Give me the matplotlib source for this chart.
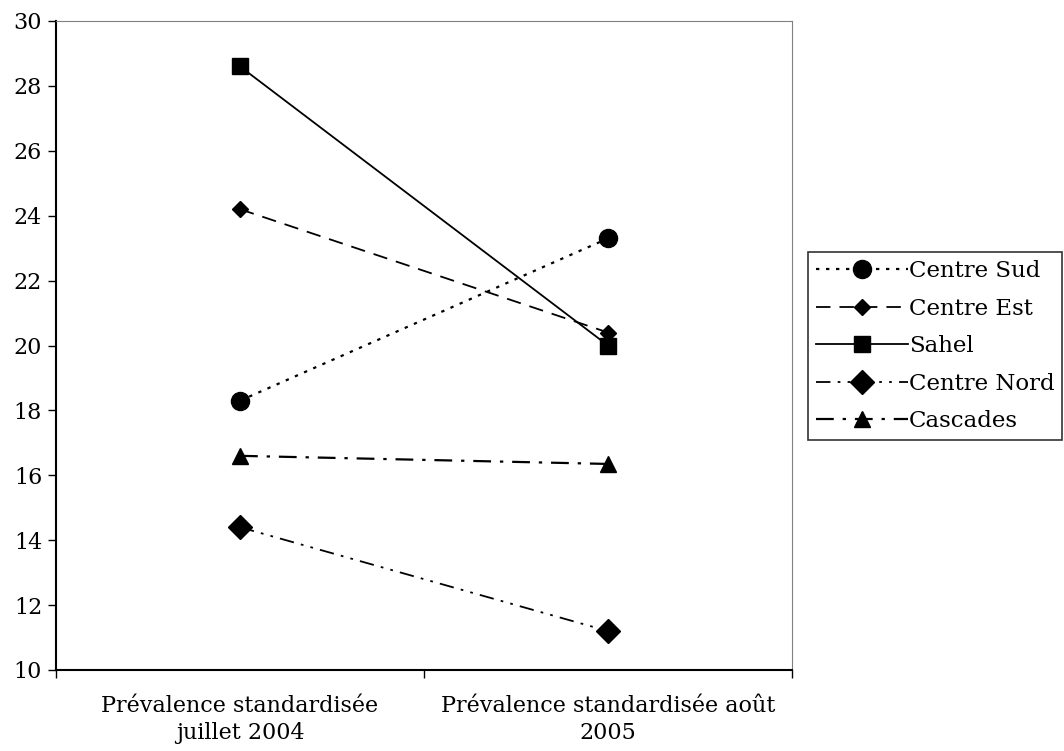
import matplotlib.pyplot as plt
from matplotlib.ticker import FixedLocator, NullFormatter

# data
categories = ['Prévalence standardisée\njuillet 2004', 'Prévalence standardisée août\n2005']
centre_sud = [18.3, 23.3]
centre_est = [24.2, 20.4]
sahel = [28.6, 20.0]
centre_nord = [14.4, 11.2]
cascades = [16.6, 16.35]

plt.rcParams['font.family'] = ['DejaVu Serif']

fig = plt.figure(figsize=(10.64, 7.51), dpi=100)
ax = fig.add_axes([56 / 1064, 1 - 670 / 751, 736 / 1064, 649 / 751])

x = [0, 1]
ax.plot(x, centre_sud, color='black', linestyle=(0, (1.5, 3)), linewidth=1.6,
        marker='o', markersize=13, label='Centre Sud')
ax.plot(x, centre_est, color='black', linestyle=(0, (8, 5)), linewidth=1.3,
        marker='D', markersize=8, label='Centre Est')
ax.plot(x, sahel, color='black', linestyle='-', linewidth=1.3,
        marker='s', markersize=11, label='Sahel')
ax.plot(x, centre_nord, color='black', linestyle=(0, (8, 4, 1.5, 4, 1.5, 4)), linewidth=1.3,
        marker='D', markersize=12, label='Centre Nord')
ax.plot(x, cascades, color='black', linestyle=(0, (8, 4, 1.5, 4)), linewidth=1.6,
        marker='^', markersize=11, label='Cascades')

ax.set_xlim(-0.5, 1.5)
ax.set_ylim(10, 30)
ax.set_yticks(range(10, 31, 2))
ax.xaxis.set_major_locator(FixedLocator([-0.5, 0.5, 1.5]))
ax.xaxis.set_major_formatter(NullFormatter())
ax.xaxis.set_minor_locator(FixedLocator(x))
ax.set_xticklabels(categories, minor=True, linespacing=1.3)
ax.tick_params(axis='x', which='minor', length=0, pad=18, labelsize=16)
ax.tick_params(axis='x', which='major', length=6, direction='out', width=1)
ax.tick_params(axis='y', length=6, direction='out', width=1, labelsize=16, pad=4)

ax.spines['left'].set_linewidth(1.5)
ax.spines['bottom'].set_linewidth(1.5)
ax.spines['top'].set_color('#808080')
ax.spines['right'].set_color('#808080')

leg = fig.legend(loc='upper left', bbox_to_anchor=(808 / 1064, 1 - 252 / 751),
                 frameon=True, fancybox=False, edgecolor='black', fontsize=16.5,
                 handlelength=4.0, handletextpad=0.05, borderaxespad=0,
                 borderpad=0.35, labelspacing=0.68)
leg.get_frame().set_linewidth(1.2)

fig.savefig('out.png', dpi=100)
